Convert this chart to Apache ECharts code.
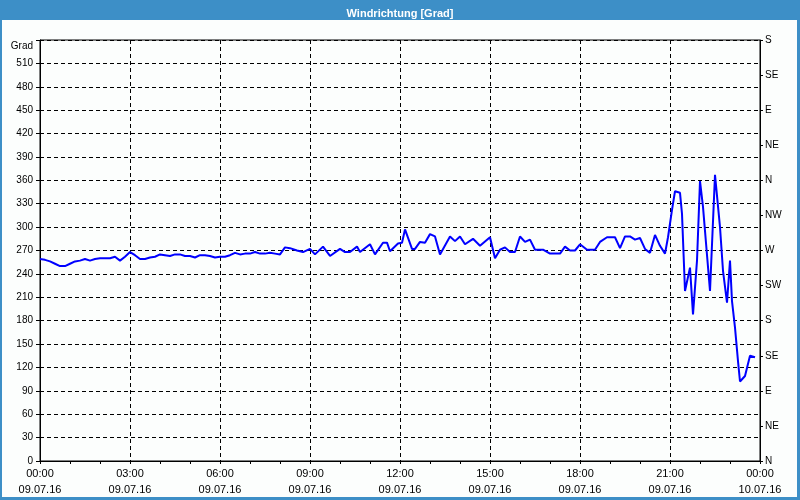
<!DOCTYPE html>
<html>
<head>
<meta charset="utf-8">
<script src="https://cdn.jsdelivr.net/npm/echarts@6/dist/echarts.min.js"></script>
<style>
  html, body { margin: 0; padding: 0; }
  #chart { width: 800px; height: 500px; }
</style>
</head>
<body>
<div id="chart"></div>
<script>
// Minuten seit 09.07.16 00:00
const minutes = [
  0, 10, 20, 30, 40, 50, 60, 70, 80, 90, 100, 110, 120, 130, 140, 150, 160, 170, 180, 190,
  200, 210, 220, 230, 240, 250, 260, 270, 280, 290, 300, 310, 320, 330, 340, 350, 360, 370, 380, 390,
  400, 410, 420, 430, 440, 450, 460, 470, 480, 490, 500, 514, 526, 540, 550, 566, 580, 600, 610, 620,
  634, 640, 660, 670, 686, 694, 700, 716, 724, 730, 744, 750, 760, 770, 780, 790, 800, 820, 830, 840,
  850, 866, 880, 900, 910, 920, 930, 940, 950, 960, 970, 980, 990, 1006, 1020, 1040, 1050, 1060, 1070, 1080,
  1094, 1110, 1120, 1134, 1150, 1160, 1170, 1180, 1190, 1200, 1210, 1220, 1230, 1240, 1250, 1256, 1264, 1270, 1280, 1284,
  1290, 1300, 1306, 1314, 1320, 1326, 1340, 1350, 1360, 1366, 1374, 1380, 1384, 1390, 1396, 1400, 1410, 1420, 1430
];
// Windrichtung in Grad
const degrees = [
  259, 258, 256, 253, 250, 250, 253, 256, 257, 259, 257, 259, 260, 260, 260, 262, 257, 262, 268, 264,
  259, 259, 261, 262, 265, 264, 263, 265, 265, 263, 263, 261, 264, 264, 263, 261, 262, 262, 264, 267,
  265, 266, 266, 268, 266, 266, 267, 266, 265, 274, 273, 270, 268, 272, 265, 275, 263, 272, 268, 268,
  275, 268, 278, 265, 280, 280, 269, 279, 280, 297, 272, 272, 281, 280, 291, 288, 265, 288, 282, 288,
  278, 285, 276, 287, 260, 271, 274, 268, 268, 288, 281, 284, 271, 271, 266, 266, 275, 270, 270, 278,
  271, 271, 281, 287, 287, 273, 288, 288, 284, 286, 272, 267, 290, 276, 266, 287, 322, 346, 344, 317,
  218, 248, 188, 257, 359, 326, 218, 367, 300, 244, 203, 257, 205, 171, 128, 102, 109, 135, 133
];
const compass = ['N', 'NE', 'E', 'SE', 'S', 'SW', 'W', 'NW', 'N', 'NE', 'E', 'SE', 'S'];
const startDate = '09.07.16';
const endDate = '10.07.16';

const font = 'Liberation Sans, Arial, sans-serif';
const dashed = { color: '#000', width: 1, type: [4, 3] };

function pad(n) { return (n < 10 ? '0' : '') + n; }

const chart = echarts.init(document.getElementById('chart'));
chart.setOption({
  animation: false,
  backgroundColor: '#fcfefd',
  title: {
    text: 'Windrichtung [Grad]',
    left: 'center',
    top: 3,
    textStyle: { color: '#fff', fontSize: 11, fontWeight: 'bold', fontFamily: font },
  },
  graphic: [
    { type: 'rect', shape: { x: 0, y: 0, width: 800, height: 20 }, style: { fill: '#3d8fc7' } },
    { type: 'rect', shape: { x: 0, y: 0, width: 2, height: 500 }, style: { fill: '#3d8fc7' } },
    { type: 'rect', shape: { x: 797, y: 0, width: 3, height: 500 }, style: { fill: '#3d8fc7' } },
    { type: 'rect', shape: { x: 0, y: 497, width: 800, height: 3 }, style: { fill: '#3d8fc7' } },
  ],
  grid: {
    left: 40, right: 40, top: 40, bottom: 39,
    show: true, borderColor: '#000', borderWidth: 1,
  },
  xAxis: {
    type: 'value',
    min: 0,
    max: 1440,
    interval: 180,
    axisLine: { lineStyle: { color: '#000' } },
    axisTick: { show: true, length: 3, lineStyle: { color: '#000' } },
    minorTick: { show: true, splitNumber: 3, length: 3, lineStyle: { color: '#000' } },
    splitLine: { show: true, lineStyle: dashed },
    axisLabel: {
      color: '#000', fontSize: 11, fontFamily: font, margin: 5, lineHeight: 16,
      formatter: v => pad(Math.floor(v / 60) % 24) + ':' + pad(v % 60) + '\n' + (v >= 1440 ? endDate : startDate),
    },
  },
  yAxis: [
    {
      type: 'value',
      min: 0,
      max: 540,
      interval: 30,
      position: 'left',
      axisLine: { show: true, lineStyle: { color: '#000' } },
      axisTick: { show: true, length: 4, lineStyle: { color: '#000' } },
      splitLine: { show: true, lineStyle: dashed },
      axisLabel: {
        color: '#000', fontSize: 10, fontFamily: font, margin: 7,
        formatter: v => v === 540 ? '{g|Grad}' : String(v),
        rich: { g: { fontSize: 10, fontFamily: font, color: '#000', padding: [12, 0, 0, 0] } },
      },
    },
    {
      type: 'value',
      min: 0,
      max: 540,
      interval: 45,
      position: 'right',
      axisLine: { show: true, lineStyle: { color: '#000' } },
      axisTick: { show: true, length: 3, lineStyle: { color: '#000' } },
      splitLine: { show: false },
      axisLabel: {
        color: '#000', fontSize: 10, fontFamily: font, margin: 5,
        formatter: v => compass[Math.round(v / 45)],
      },
    },
  ],
  series: [
    {
      name: 'Windrichtung',
      type: 'line',
      yAxisIndex: 0,
      data: minutes.map((m, i) => [m, degrees[i]]),
      showSymbol: false,
      symbol: 'none',
      lineStyle: { color: '#0000ff', width: 2 },
      itemStyle: { color: '#0000ff' },
    },
  ],
});
</script>
</body>
</html>
